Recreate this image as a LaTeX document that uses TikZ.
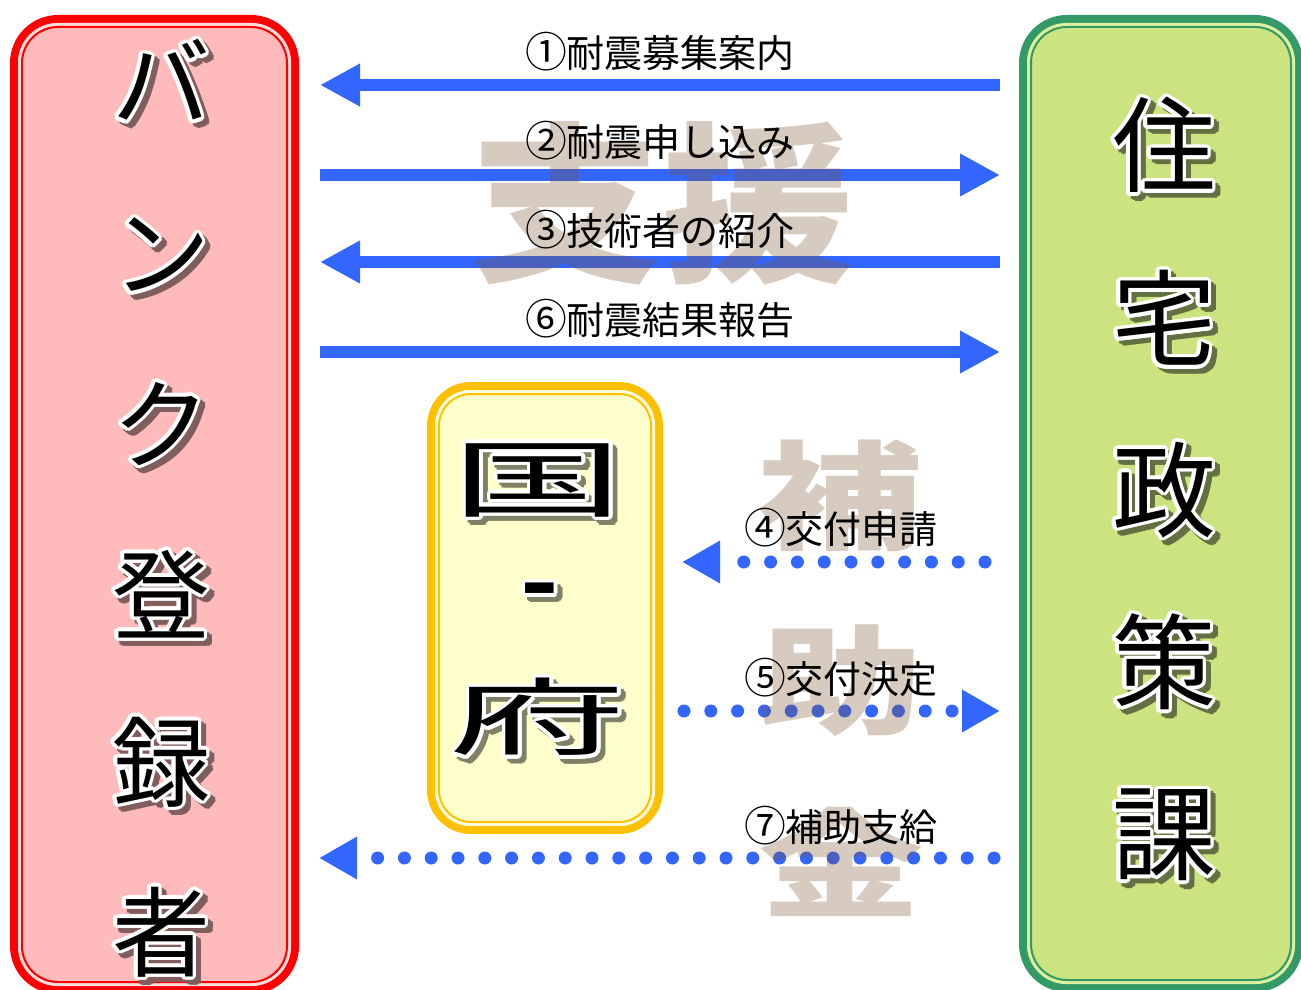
\documentclass[tikz,border=0pt]{standalone}
\usepackage{fontspec}
\usepackage{graphicx}
\usetikzlibrary{arrows.meta}
\newfontfamily\jp{Noto Sans CJK JP}
\definecolor{arrowblue}{RGB}{51,102,255}
\definecolor{wmc}{RGB}{125,85,45}
\definecolor{redline}{RGB}{255,0,0}
\definecolor{pinkfill}{RGB}{255,187,187}
\definecolor{pinkpale}{RGB}{255,220,220}
\definecolor{pinkshadow}{RGB}{128,94,94}
\definecolor{greenline}{RGB}{51,153,102}
\definecolor{greenfill}{RGB}{204,228,128}
\definecolor{greenpale}{RGB}{222,240,160}
\definecolor{greenshadow}{RGB}{98,112,66}
\definecolor{goldline}{RGB}{255,192,0}
\definecolor{goldfill}{RGB}{255,255,204}
\definecolor{goldpale}{RGB}{255,250,225}
\definecolor{goldshadow}{RGB}{128,128,102}
\newcommand\fancychar[5]{%
  \foreach \a in {0,30,...,330}{
    \node[glyph, text=#4, xshift={5+3.5*cos(\a)}, yshift={-5+3.5*sin(\a)}] at (#2,#3) {#5};
  }
  \foreach \a in {0,22.5,...,337.5}{
    \node[glyph, text=white, xshift={3.5*cos(\a)}, yshift={3.5*sin(\a)}] at (#2,#3) {#5};
  }
  \node[glyph, text=black] (#1) at (#2,#3) {#5};
}
\newcommand\cnum[1]{\makebox[1.06em][l]{\scalebox{1.1}{#1}}}
\tikzset{
  solidarrow/.style={draw=arrowblue, line width=12pt, -{Triangle[length=40pt,width=40pt]}},
  dotarrow/.style={draw=arrowblue, line width=13pt, line cap=round, dash pattern=on 0pt off 26.8pt, -{Triangle[length=38pt,width=40pt,line cap=butt]}},
  lbl/.style={font=\jp\fontsize{38}{38}\selectfont, inner sep=0pt, text=black},
  wmark/.style={font=\jp\bfseries\fontsize{118}{118}\selectfont, inner sep=0pt, text=wmc, opacity=0.3, text opacity=0.3},
}
\begin{document}
\begin{tikzpicture}[x=1pt,y=-1pt]
\fill[white] (0,0) rectangle (1301,990);
\useasboundingbox (0,0) rectangle (1301,990);

% ---- left box
\draw[draw=redline, fill=pinkfill, line width=8pt, rounded corners=44pt] (14,19) rectangle (295,990);
\draw[draw=pinkpale, line width=3pt, rounded corners=38pt] (19.5,24.5) rectangle (289.5,984.5);
\draw[draw=redline, line width=2pt, rounded corners=36pt] (22,27) rectangle (287,982);
\node[inner sep=0pt, minimum width=281pt, minimum height=971pt] (bank) at (154.5,504.5) {};

% ---- right box
\draw[draw=greenline, fill=greenfill, line width=8pt, rounded corners=44pt] (1023,19) rectangle (1299,988);
\draw[draw=greenpale, line width=3pt, rounded corners=38pt] (1028.5,24.5) rectangle (1293.5,982.5);
\draw[draw=greenline, line width=2pt, rounded corners=36pt] (1031,27) rectangle (1291,980);
\node[inner sep=0pt, minimum width=276pt, minimum height=969pt] (jutaku) at (1161,503.5) {};

% ---- centre box
\draw[draw=goldline, fill=goldfill, line width=8pt, rounded corners=40pt] (431,386) rectangle (659,830);
\draw[draw=goldpale, line width=3pt, rounded corners=34pt] (436.5,391.5) rectangle (653.5,824.5);
\draw[draw=goldline, line width=2pt, rounded corners=32pt] (439,394) rectangle (651,822);
\node[inner sep=0pt, minimum width=228pt, minimum height=444pt] (kunifu) at (545,608) {};

% ---- box characters
\begin{scope}[glyph/.style={font=\jp\fontsize{98}{98}\selectfont, inner sep=0pt}]
\fancychar{b1}{161}{80}{pinkshadow}{バ}
\fancychar{b2}{161}{255}{pinkshadow}{ン}
\fancychar{b3}{161}{424}{pinkshadow}{ク}
\fancychar{b4}{161}{594}{pinkshadow}{登}
\fancychar{b5}{161}{762}{pinkshadow}{録}
\fancychar{b6}{161}{932}{pinkshadow}{者}
\end{scope}
\begin{scope}[glyph/.style={font=\jp\fontsize{104}{104}\selectfont, inner sep=0pt}]
\fancychar{r1}{1164}{145}{greenshadow}{住}
\fancychar{r2}{1164}{318}{greenshadow}{宅}
\fancychar{r3}{1164}{490}{greenshadow}{政}
\fancychar{r4}{1164}{662}{greenshadow}{策}
\fancychar{r5}{1164}{835}{greenshadow}{課}
\end{scope}
\begin{scope}[glyph/.style={font=\jp\fontsize{84}{84}\selectfont, inner sep=0pt}]
\fancychar{c1}{538}{480}{goldshadow}{\scalebox{2.05}[1]{国}}
\fancychar{c2}{540}{598}{goldshadow}{\scalebox{1.2}[1]{\bfseries -}}
\fancychar{c3}{538}{717}{goldshadow}{\scalebox{2.1}[1]{府}}
\end{scope}

% ---- arrow end points
\coordinate (a1s) at (1000,85);  \coordinate (a1e) at (320,85);
\coordinate (a2s) at (320,175);  \coordinate (a2e) at (1000,175);
\coordinate (a3s) at (1000,262); \coordinate (a3e) at (320,262);
\coordinate (a6s) at (320,352);  \coordinate (a6e) at (1000,352);
\coordinate (a4s) at (985,562);  \coordinate (a4e) at (682,562);
\coordinate (a5s) at (684,711);  \coordinate (a5e) at (1000,711);
\coordinate (a7s) at (994,858);  \coordinate (a7e) at (319,858);

\draw[solidarrow] (a1s) -- (a1e);
\draw[solidarrow] (a2s) -- (a2e);
\draw[solidarrow] (a3s) -- (a3e);
\draw[solidarrow] (a6s) -- (a6e);
\draw[dotarrow] (a4s) -- (a4e);
\draw[dotarrow] (a5s) -- (a5e);
\draw[dotarrow] (a7s) -- (a7e);

% ---- watermarks
\node[wmark, font=\jp\bfseries\fontsize{172}{172}\selectfont] (wm1) at (662,203) {\scalebox{1.12}[1]{支援}};
\node[wmark] (wm2) at (840,496) {\scalebox{1.4}[1]{補}};
\node[wmark] (wm3) at (841,681) {\scalebox{1.4}[1]{助}};
\node[wmark] (wm4) at (841,862) {\scalebox{1.4}[1]{金}};

% ---- labels
\node[lbl] (l1) at (660,52) {\cnum{①}耐震募集案内};
\node[lbl] (l2) at (660,141) {\cnum{②}耐震申し込み};
\node[lbl] (l3) at (660,230) {\cnum{③}技術者の紹介};
\node[lbl] (l6) at (660,319) {\cnum{⑥}耐震結果報告};
\node[lbl] (l4) at (841,528) {\cnum{④}交付申請};
\node[lbl] (l5) at (841,678) {\cnum{⑤}交付決定};
\node[lbl] (l7) at (841,826) {\cnum{⑦}補助支給};
\end{tikzpicture}
\end{document}
